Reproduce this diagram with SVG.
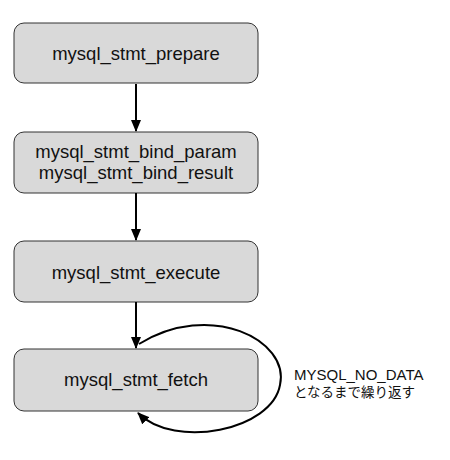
<svg xmlns="http://www.w3.org/2000/svg" width="450" height="460" viewBox="0 0 450 460">
<style>
.box{fill:#d9d9d9;stroke:#333;stroke-width:1}
.t{font-family:"Liberation Sans",Arial,sans-serif;font-size:18.5px;fill:#111;text-anchor:middle}
.lbl{font-family:"Liberation Sans","Noto Sans CJK JP",sans-serif;font-size:15px;fill:#111}
.c{fill:none;stroke:#000;stroke-width:2}
</style>
<defs>
<marker id="ah" markerWidth="12" markerHeight="10" refX="11" refY="5" orient="auto" markerUnits="userSpaceOnUse">
<path d="M0,0 L12,5 L0,10 Z" fill="#000"/>
</marker>
</defs>
<rect width="450" height="460" fill="#fff"/>
<g id="n1"><rect class="box" x="14" y="23" width="244" height="60" rx="10"/><text class="t" x="136" y="60">mysql_stmt_prepare</text></g>
<g id="n2"><rect class="box" x="14" y="132" width="244" height="61" rx="10"/><text class="t" x="136" y="158">mysql_stmt_bind_param</text><text class="t" x="136" y="179">mysql_stmt_bind_result</text></g>
<g id="n3"><rect class="box" x="14" y="241" width="244" height="61" rx="10"/><text class="t" x="136" y="279">mysql_stmt_execute</text></g>
<g id="n4"><rect class="box" x="14" y="349" width="244" height="62" rx="10"/><text class="t" x="136" y="386">mysql_stmt_fetch</text></g>
<g id="connectors">
<line class="c" x1="136" y1="84" x2="136" y2="131" marker-end="url(#ah)"/>
<line class="c" x1="136" y1="193" x2="136" y2="240" marker-end="url(#ah)"/>
<line class="c" x1="136" y1="302" x2="136" y2="348" marker-end="url(#ah)"/>
<path class="c" d="M139,344 C210,300 290,340 280,385 C272,430 175,450 138,413" marker-end="url(#ah)"/>
</g>
<g id="label"><text class="lbl" x="294" y="380">MYSQL_NO_DATA</text><text class="lbl" x="294" y="397" style="font-size:13.5px">となるまで繰り返す</text></g>
</svg>
